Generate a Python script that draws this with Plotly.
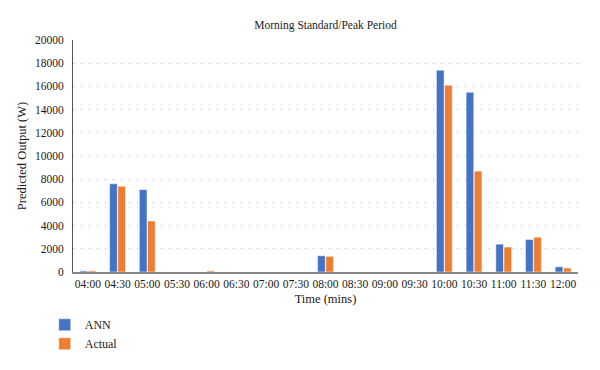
import plotly.graph_objects as go

times = ["04:00", "04:30", "05:00", "05:30", "06:00", "06:30", "07:00", "07:30", "08:00",
         "08:30", "09:00", "09:30", "10:00", "10:30", "11:00", "11:30", "12:00"]
ann = [100, 7600, 7100, 0, 0, 0, 0, 0, 1400, 0, 0, 0, 17400, 15500, 2400, 2800, 450]
actual = [100, 7400, 4400, 0, 100, 0, 0, 0, 1350, 0, 0, 0, 16100, 8700, 2150, 3000, 350]

font = "Liberation Serif"
tc = "#1a1a1a"

W, H = 592, 362  # page has an 8px body margin

fig = go.Figure()
fig.add_trace(go.Bar(x=times, y=ann, name="ANN", marker=dict(color="#4472C4", line=dict(color="white", width=0.5))))
fig.add_trace(go.Bar(x=times, y=actual, name="Actual", marker=dict(color="#ED7D31", line=dict(color="white", width=0.5))))

fig.update_layout(
    width=W, height=H,
    margin=dict(l=65, r=22, t=32, b=95),
    paper_bgcolor="white", plot_bgcolor="white",
    font=dict(family=font, size=12, color=tc),
    title=dict(text="Morning Standard/Peak Period", x=317.5 / W, xanchor="center",
               y=1 - 17 / H, yanchor="middle", font=dict(family=font, size=11.5, color=tc)),
    barmode="group", bargap=0.45, bargroupgap=0.06,
    showlegend=True,
    legend=dict(orientation="v", x=-0.056, xanchor="left", y=-0.165, yanchor="top",
                font=dict(family=font, size=12, color=tc), tracegroupgap=0,
                itemwidth=30, bgcolor="rgba(0,0,0,0)"),
    xaxis=dict(title=dict(text="Time (mins)", font=dict(family=font, size=12.5, color=tc), standoff=6),
               showline=True, linecolor="#888", linewidth=1.5, ticks="", showgrid=False,
               tickfont=dict(family=font, size=11.5, color=tc)),
    yaxis=dict(title=dict(text="Predicted Output (W)", font=dict(family=font, size=12.5, color=tc), standoff=5),
               range=[0, 20000], dtick=2000, tickformat="d", showline=True, linecolor="#555", linewidth=1,
               showgrid=True, gridcolor="#b0b0b0", griddash="1px,7px", gridwidth=1,
               zeroline=False, ticks="", ticklabelstandoff=6,
               tickfont=dict(family=font, size=11.5, color=tc)),
)

fig.write_html("out.html")
